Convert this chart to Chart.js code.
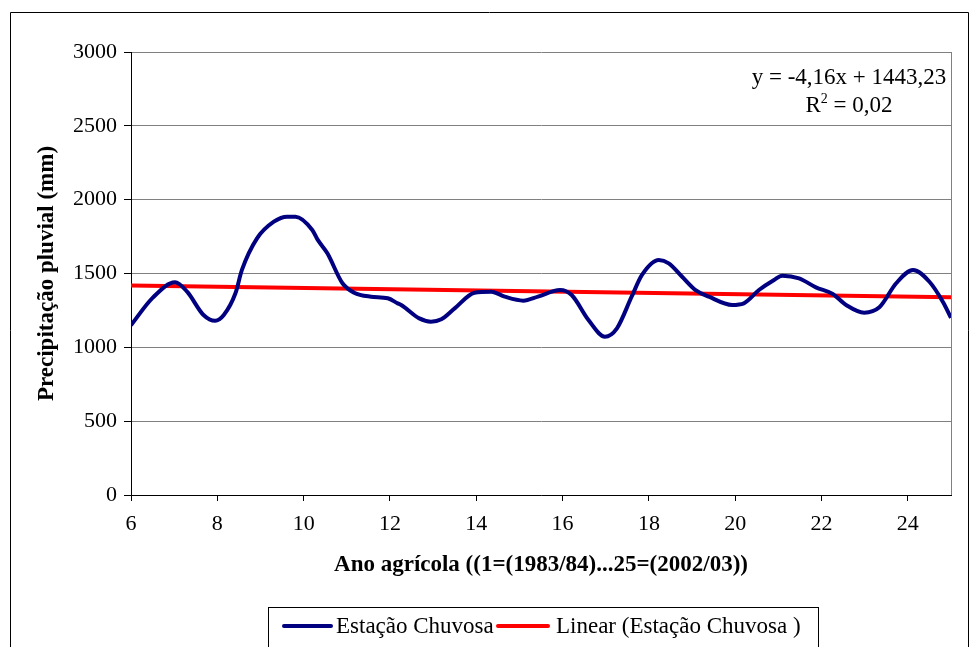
<!DOCTYPE html>
<html>
<head>
<meta charset="utf-8">
<script src="https://cdn.jsdelivr.net/npm/chart.js@4.4.1/dist/chart.umd.min.js"></script>
<style>
  html, body { margin: 0; padding: 0; background: #ffffff; }
  #wrap { width: 975px; height: 647px; }
</style>
</head>
<body>
<div id="wrap"><canvas id="grafico" width="975" height="647"></canvas></div>
<script>
// Ano agrícola (eixo X) e precipitação pluvial da estação chuvosa (mm), lidos ao longo da curva
const anoAgricola = [6.0, 6.5, 7.02, 7.3, 7.68, 7.95, 8.15, 8.42, 8.57, 8.92, 9.31, 9.62, 9.81,
  10.2, 10.32, 10.55, 10.9, 11.17, 11.56, 11.95, 12.18, 12.26, 12.68, 12.95, 13.19, 13.5, 13.96,
  14.35, 14.66, 15.09, 15.43, 15.94, 16.21, 16.6, 16.98, 17.26, 17.6, 17.84, 18.23, 18.46, 18.77,
  19.08, 19.39, 19.93, 20.2, 20.55, 20.9, 21.09, 21.48, 21.87, 22.26, 22.57, 22.99, 23.34, 23.73,
  24.12, 24.5, 24.81, 25.0];
const precipitacao = [1150, 1335, 1440, 1377, 1219, 1180, 1219, 1366, 1524, 1738, 1851, 1885, 1885,
  1795, 1731, 1637, 1434, 1370, 1343, 1332, 1298, 1287, 1196, 1174, 1190, 1264, 1370,
  1377, 1343, 1316, 1343, 1388, 1354, 1185, 1072, 1129, 1343, 1490, 1591, 1569, 1478,
  1388, 1343, 1287, 1298, 1388, 1456, 1485, 1467, 1406, 1361, 1287, 1235, 1271, 1434,
  1524, 1444, 1309, 1200];

// Linha de tendência linear: y = -4,16x + 1443,23 ; R² = 0,02
const tendenciaInclinacao = -4.16;
const tendenciaIntercepto = 1443.23;
const tendenciaX = [6, 25];
const textoEquacao = 'y = -4,16x + 1443,23';
const textoR2 = '0,02';

// Eixos
const eixoXMin = 6, eixoXMax = 25, eixoXPasso = 2;
const eixoYMin = 0, eixoYMax = 3000, eixoYPasso = 500;
const tituloX = 'Ano agrícola ((1=(1983/84)...25=(2002/03))';
const tituloY = 'Precipitação pluvial (mm)';
const nomeSerie = 'Estação Chuvosa';
const nomeTendencia = 'Linear (Estação Chuvosa )';

const SERIF = "'Liberation Serif', 'Times New Roman', serif";
const TAM = 23;

const pontosSerie = anoAgricola.map((x, i) => ({ x: x, y: precipitacao[i] }));
const pontosTendencia = tendenciaX.map(x => ({ x: x, y: tendenciaInclinacao * x + tendenciaIntercepto }));

const molduraENotas = {
  id: 'molduraENotas',
  afterDraw(chart) {
    const ctx = chart.ctx;
    const area = chart.chartArea;
    ctx.save();

    // borda direita da área de plotagem
    ctx.strokeStyle = '#808080';
    ctx.lineWidth = 1;
    ctx.beginPath();
    ctx.moveTo(Math.round(area.right) + 0.5, area.top);
    ctx.lineTo(Math.round(area.right) + 0.5, area.bottom);
    ctx.stroke();

    // moldura externa do gráfico
    ctx.strokeStyle = '#000000';
    ctx.beginPath();
    ctx.moveTo(10.5, 660);
    ctx.lineTo(10.5, 12.5);
    ctx.lineTo(968.5, 12.5);
    ctx.lineTo(968.5, 660);
    ctx.stroke();

    // equação da tendência e R²
    ctx.fillStyle = '#000000';
    ctx.font = TAM + 'px ' + SERIF;
    ctx.textBaseline = 'middle';
    ctx.textAlign = 'center';
    const cx = 849;
    ctx.fillText(textoEquacao, cx, 78);
    const resto = ' = ' + textoR2;
    const wR = ctx.measureText('R').width;
    const wResto = ctx.measureText(resto).width;
    ctx.font = '14px ' + SERIF;
    const w2 = ctx.measureText('2').width;
    let px = cx - (wR + w2 + wResto) / 2;
    ctx.textAlign = 'left';
    ctx.font = TAM + 'px ' + SERIF;
    ctx.fillText('R', px, 106);
    px += wR;
    ctx.font = '14px ' + SERIF;
    ctx.fillText('2', px, 99);
    px += w2;
    ctx.font = TAM + 'px ' + SERIF;
    ctx.fillText(resto, px, 106);

    // legenda
    ctx.strokeStyle = '#000000';
    ctx.lineWidth = 1;
    ctx.strokeRect(268.5, 607.5, 550, 60);
    const posicoes = [{ l0: 284, l1: 331, t: 336 }, { l0: 498, l1: 548, t: 556 }];
    chart.data.datasets.forEach((ds, i) => {
      const p = posicoes[i];
      ctx.strokeStyle = ds.borderColor;
      ctx.lineWidth = 4;
      ctx.lineCap = 'round';
      ctx.beginPath();
      ctx.moveTo(p.l0, 626);
      ctx.lineTo(p.l1, 626);
      ctx.stroke();
      ctx.fillStyle = '#000000';
      ctx.font = TAM + 'px ' + SERIF;
      ctx.textAlign = 'left';
      ctx.fillText(ds.label, p.t, 627);
    });
    ctx.restore();
  }
};

new Chart(document.getElementById('grafico'), {
  type: 'line',
  data: {
    datasets: [
      {
        label: nomeSerie,
        data: pontosSerie,
        borderColor: '#000080',
        borderWidth: 4,
        pointRadius: 0,
        cubicInterpolationMode: 'monotone',
        fill: false
      },
      {
        label: nomeTendencia,
        data: pontosTendencia,
        borderColor: '#ff0000',
        borderWidth: 4,
        pointRadius: 0,
        tension: 0,
        fill: false
      }
    ]
  },
  options: {
    responsive: false,
    devicePixelRatio: 1,
    animation: false,
    layout: { padding: { left: 14, top: 52, right: 24, bottom: 0 } },
    plugins: {
      legend: { display: false },
      tooltip: { enabled: false }
    },
    scales: {
      x: {
        type: 'linear',
        min: eixoXMin,
        max: eixoXMax,
        ticks: {
          stepSize: eixoXPasso,
          includeBounds: false,
          color: '#000000',
          font: { family: SERIF, size: TAM - 1 },
          padding: 10,
          maxRotation: 0,
          callback: v => String(v)
        },
        grid: {
          display: true,
          drawOnChartArea: false,
          drawTicks: true,
          tickLength: 6,
          tickColor: '#000000'
        },
        border: { color: '#000000', width: 1 },
        title: {
          display: true,
          text: tituloX,
          color: '#000000',
          font: { family: SERIF, size: TAM, weight: 'bold' },
          padding: { top: 0, bottom: 68 }
        },
        afterFit(scale) { scale.height = 152; }
      },
      y: {
        type: 'linear',
        min: eixoYMin,
        max: eixoYMax,
        ticks: {
          stepSize: eixoYPasso,
          color: '#000000',
          font: { family: SERIF, size: TAM - 1 },
          padding: 7,
          callback: v => String(v)
        },
        grid: {
          color: '#808080',
          lineWidth: 1,
          drawTicks: true,
          tickLength: 7,
          tickColor: '#000000'
        },
        border: { color: '#000000', width: 1 },
        title: {
          display: true,
          text: tituloY,
          color: '#000000',
          font: { family: SERIF, size: TAM, weight: 'bold' },
          padding: { top: 19, bottom: 0 }
        },
        afterFit(scale) { scale.width = 117; }
      }
    }
  },
  plugins: [molduraENotas]
});
</script>
</body>
</html>
